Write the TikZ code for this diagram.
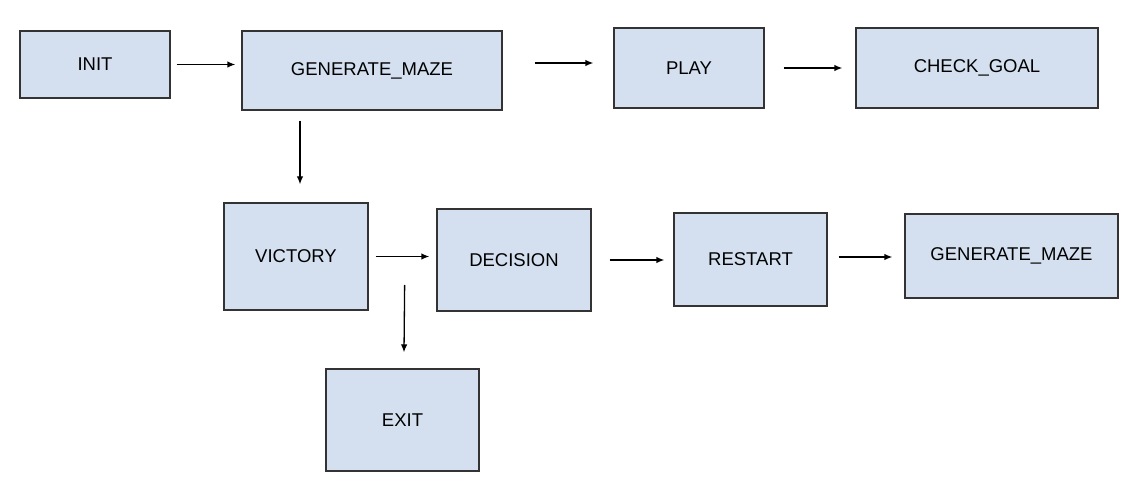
\documentclass[tikz,border=0pt]{standalone}
\usepackage{fontspec}
\setmainfont{Liberation Sans}
\usepackage{tikz}
\usetikzlibrary{arrows.meta}
\definecolor{boxfill}{RGB}{212,224,239}
\definecolor{boxline}{RGB}{51,51,51}

\begin{document}
\begin{tikzpicture}[x=1pt, y=-1pt,
  box/.style={draw=boxline, fill=boxfill, line width=1.3pt, align=center, inner sep=0pt,
    font=\fontsize{18.5}{22}\selectfont},
  arr/.style={-{Latex[length=8pt,width=6.5pt]}, line width=1.3pt}]
\useasboundingbox (0,0) rectangle (1138,486);

\node[box, minimum width=150pt, minimum height=67pt] (init) at (95, 64.5) {INIT};
\node[box, minimum width=260pt, minimum height=79pt] (gen1) at (372, 70.5) {GENERATE\_MAZE};
\node[box, minimum width=150pt, minimum height=80pt] (play) at (689, 68) {PLAY};
\node[box, minimum width=242pt, minimum height=80pt] (check) at (977, 68) {CHECK\_GOAL};

\node[box, minimum width=144pt, minimum height=107pt] (victory) at (296, 256.5) {VICTORY};
\node[box, minimum width=154pt, minimum height=102pt] (decision) at (514, 260) {DECISION};
\node[box, minimum width=153pt, minimum height=93pt] (restart) at (750.5, 259.5) {RESTART};
\node[box, minimum width=213pt, minimum height=84pt] (gen2) at (1011.5, 256) {GENERATE\_MAZE};
\node[box, minimum width=153pt, minimum height=102pt] (exit) at (402.5, 420) {EXIT};

% top row
\draw[arr, shorten <=6pt, shorten >=6pt] (init.east) -- (init.east -| gen1.west);
\draw[arr] ([xshift=32pt,yshift=7.5pt]gen1.east) -- ([xshift=-20pt,yshift=5pt]play.west);
\draw[arr, shorten <=19pt, shorten >=13pt] (play.east) -- (play.east -| check.west);
\draw[arr] ([xshift=-72pt,yshift=-10pt]gen1.south) -- ([xshift=4pt,yshift=18pt]victory.north);

% bottom row
\draw[arr, shorten <=7pt, shorten >=7pt] (victory.east) -- (victory.east -| decision.west);
\draw[arr] ([xshift=36pt,yshift=-28.5pt]victory.east) -- ([xshift=1.5pt,yshift=16pt]exit.north);
\draw[arr, shorten <=18pt, shorten >=9pt] (decision.east) -- (decision.east -| restart.west);
\draw[arr] ([xshift=11pt,yshift=2.5pt]restart.east) -- ([xshift=-12pt,yshift=-1pt]gen2.west);
\end{tikzpicture}
\end{document}
